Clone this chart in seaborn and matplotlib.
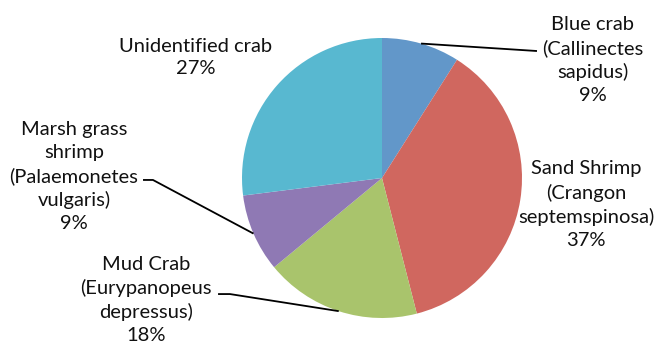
import numpy as np
import matplotlib
matplotlib.use("Agg")
import matplotlib.pyplot as plt
import seaborn as sns

# Diet composition by prey category
categories = [
    "Blue crab\n(Callinectes\nsapidus)",
    "Sand Shrimp\n(Crangon\nseptemspinosa)",
    "Mud Crab\n(Eurypanopeus\ndepressus)",
    "Marsh grass\nshrimp\n(Palaemonetes\nvulgaris)",
    "Unidentified crab",
]
percent = [9, 37, 18, 9, 27]
colors = ["#6297C9", "#D0675F", "#A9C46C", "#8F79B4", "#58B8D0"]

sns.set_theme(style="white")
plt.rcParams["font.family"] = ["Lato", "DejaVu Sans"]

fig = plt.figure(figsize=(6.6, 3.48), dpi=100)
ax = fig.add_axes([0, 0, 1, 1])

wedges, _ = ax.pie(percent, colors=colors, startangle=90, counterclock=False,
                   radius=1.0, center=(0, 0),
                   wedgeprops=dict(linewidth=0, antialiased=True))

ax.set_xlim(-382 / 140, (660 - 382) / 140)
ax.set_ylim((178 - 348) / 140, 178 / 140)
ax.set_aspect("equal")
ax.axis("off")

# label placement (text centre) and leader elbow points, in pie-radius units
label_pos = [(1.507, 0.843), (1.457, -0.189), (-1.686, -0.871), (-2.2, 0.011), (-1.329, 0.861)]
leaders = {
    0: [(1.107, 0.907)],
    2: [(-1.086, -0.829), (-1.171, -0.829)],
    3: [(-1.636, -0.014), (-1.707, -0.014)],
}

cum = np.cumsum([0] + percent)
total = sum(percent)
for i, (cat, p) in enumerate(zip(categories, percent)):
    mid = (cum[i] + p / 2) / total * 360.0
    theta = np.deg2rad(90 - mid)
    ex, ey = np.cos(theta), np.sin(theta)
    if i in leaders:
        pts = [(ex, ey)] + leaders[i]
        xs, ys = zip(*pts)
        ax.plot(xs, ys, color="black", lw=1.3, solid_capstyle="butt", zorder=3)
    tx, ty = label_pos[i]
    ax.text(tx, ty, f"{cat}\n{p}%", ha="center", va="center",
            fontsize=14.5, color="#111111", linespacing=1.42)

fig.savefig("out.png", dpi=100)
